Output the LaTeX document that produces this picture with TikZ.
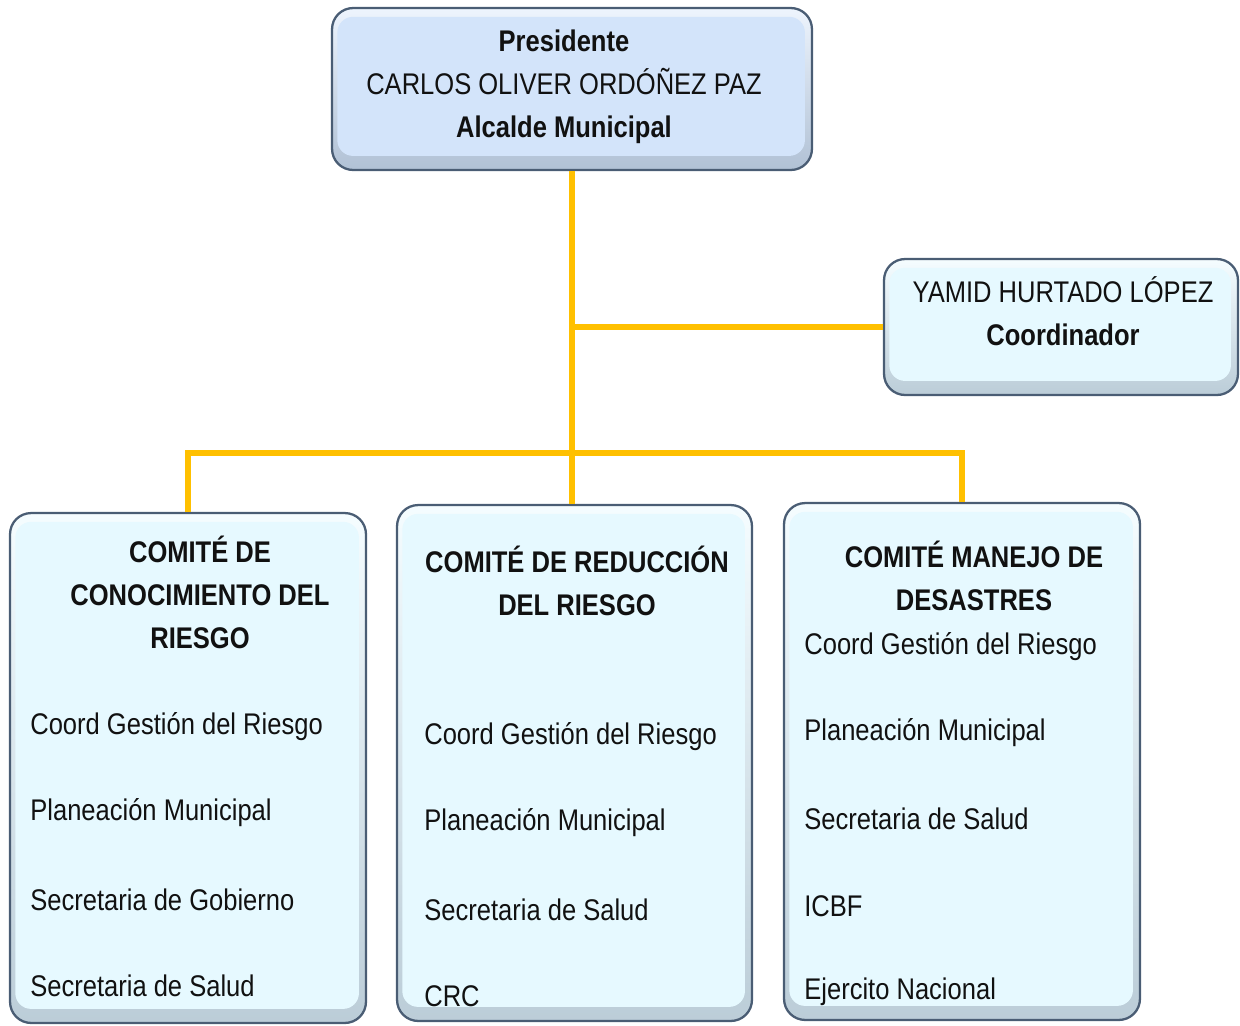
\documentclass[tikz,border=0pt]{standalone}
\usepackage{fontspec}
\setmainfont{Liberation Sans}[FakeStretch=0.855]
\definecolor{bordc}{HTML}{4A5D74}
\definecolor{shadc}{HTML}{8797A8}
\definecolor{presfill}{HTML}{D3E4FA}
\definecolor{boxfill}{HTML}{E6F9FF}
\definecolor{linec}{HTML}{FFC000}
\definecolor{txtc}{HTML}{111111}
\begin{document}
\begin{tikzpicture}[x=0.02cm,y=-0.02cm,
  bevel/.style={draw=bordc, line width=1.3pt, rounded corners=12pt, inner sep=0pt,
    top color=#1!40!white, bottom color=#1!55!shadc,
    path picture={\fill[#1, rounded corners=9pt]
      ([shift={(3pt,-5pt)}]path picture bounding box.north west) rectangle
      ([shift={(-4pt,8pt)}]path picture bounding box.south east);}},
  conn/.style={draw=linec, line width=3pt},
  txt/.style={text=txtc, inner sep=0pt, font=\fontsize{17}{24.5}\selectfont},
  head/.style={txt, align=center, font=\fontsize{17}{24.5}\selectfont\bfseries},
  item/.style={txt, anchor=west}
]
\useasboundingbox (0,0) rectangle (1240,1025);

% boxes
\node[bevel=presfill, minimum width=9.6cm, minimum height=3.24cm] (pres) at (572,89) {};
\node[bevel=boxfill, minimum width=7.08cm, minimum height=2.72cm] (coord) at (1061,327) {};
\node[bevel=boxfill, minimum width=7.12cm, minimum height=10.2cm] (c1) at (188,768) {};
\node[bevel=boxfill, minimum width=7.1cm, minimum height=10.32cm] (c2) at (574.5,763) {};
\node[bevel=boxfill, minimum width=7.12cm, minimum height=10.34cm] (c3) at (962,761.5) {};

% connectors
\coordinate (bar) at (572,453);
\draw[conn] (pres.south) -- (pres.south |- c2.north);
\draw[conn] (pres.south |- coord.west) -- (coord.west);
\draw[conn] (c1.north) |- (bar) -| (c3.north);

% president text
\node[txt, align=center] (prestxt) at (564,87)
  {{\bfseries Presidente}\\CARLOS OLIVER ORDÓÑEZ PAZ\\{\bfseries Alcalde Municipal}};
% coordinator text
\node[txt, align=center] (coordtxt) at (1063,311)
  {YAMID HURTADO LÓPEZ\\{\bfseries Coordinador}};

% committee 1
\node[head] (h1) at (200,592) {COMITÉ DE\\CONOCIMIENTO DEL\\RIESGO};
\node[item] (a1) at (30,727) {Coord Gestión del Riesgo};
\node[item] (a2) at (30,813) {Planeación Municipal};
\node[item] (a3) at (30,900) {Secretaria de Gobierno};
\node[item] (a4) at (30,986) {Secretaria de Salud};

% committee 2
\node[head] (h2) at (577,581) {COMITÉ DE REDUCCIÓN\\DEL RIESGO};
\node[item] (b1) at (424,737) {Coord Gestión del Riesgo};
\node[item] (b2) at (424,823) {Planeación Municipal};
\node[item] (b3) at (424,910) {Secretaria de Salud};
\node[item] (b4) at (424,996) {CRC};

% committee 3
\node[head] (h3) at (974,576) {COMITÉ MANEJO DE\\DESASTRES};
\node[item] (d1) at (804,647) {Coord Gestión del Riesgo};
\node[item] (d2) at (804,733) {Planeación Municipal};
\node[item] (d3) at (804,819) {Secretaria de Salud};
\node[item] (d4) at (804,906) {ICBF};
\node[item] (d5) at (804,992) {Ejercito Nacional};
\end{tikzpicture}
\end{document}
